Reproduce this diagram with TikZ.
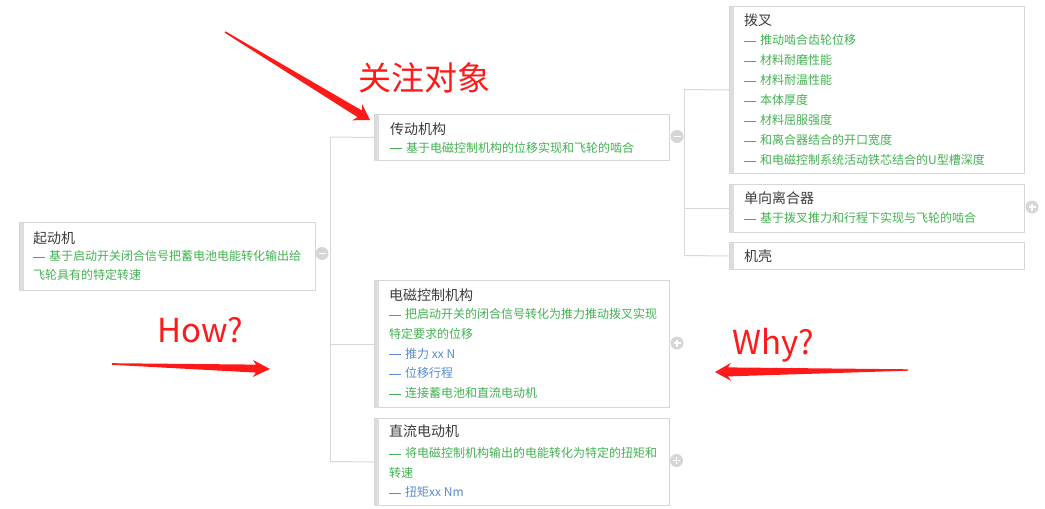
\documentclass[tikz,border=0pt]{standalone}
\usepackage{fontspec}
\setmainfont{Noto Sans CJK SC}
\definecolor{boxc}{RGB}{214,214,214}
\definecolor{barc}{RGB}{221,221,221}
\definecolor{linec}{RGB}{216,216,216}
\definecolor{titc}{RGB}{60,60,60}
\definecolor{grn}{RGB}{66,178,82}
\definecolor{blu}{RGB}{90,140,208}
\definecolor{redc}{RGB}{255,26,26}
\definecolor{togc}{RGB}{214,214,214}
\tikzset{
  box/.style={draw=boxc, line width=1pt, fill=white, inner sep=0pt, anchor=north west},
  ttl/.style={anchor=base west, inner sep=0pt, font=\fontsize{14}{16}\selectfont, text=titc},
  gtx/.style={anchor=base west, inner sep=0pt, font=\fontsize{12}{14}\selectfont, text=grn},
  btx/.style={anchor=base west, inner sep=0pt, font=\fontsize{12}{14}\selectfont, text=blu},
  conn/.style={draw=linec, line width=1pt},
  tog/.style={circle, fill=togc, minimum size=13pt, inner sep=0pt},
  togsign/.style={draw=white, line width=1.6pt},
  redtxt/.style={anchor=base west, inner sep=0pt, font=\fontsize{33}{36}\selectfont, text=redc},
  redarrow/.style={fill=redc, draw=none}
}
\newcommand{\dsh}{\rule[3.1pt]{11.5pt}{0.9pt}\hspace{4.5pt}}
\begin{document}
\begin{tikzpicture}[x=1pt,y=-1pt]
\useasboundingbox (0,0) rectangle (1045,509);
\fill[white] (0,0) rectangle (1045,509);

% boxes
\node[box, minimum width=296pt, minimum height=68pt] (qdj) at (19,222) {};
\node[box, minimum width=295pt, minimum height=46pt] (cd) at (374,114) {};
\node[box, minimum width=295pt, minimum height=127pt] (dc) at (374,280) {};
\node[box, minimum width=295pt, minimum height=87pt] (zl) at (374,418) {};
\node[box, minimum width=295pt, minimum height=167pt] (bc) at (729,6) {};
\node[box, minimum width=295pt, minimum height=48pt] (dx) at (729,184) {};
\node[box, minimum width=295pt, minimum height=27pt] (jk) at (729,242) {};

% connectors
\coordinate (jL1) at (330,137);
\coordinate (jL3) at (330,461.5);
\draw[conn] (jL1) -- (jL3);
\draw[conn] (jL1) -- (cd.west);
\draw[conn] (jL1 |- dc.west) -- (dc.west);
\draw[conn] (jL3) -- (zl.west);
\coordinate (jR1) at (684,89.5);
\coordinate (jR3) at (684,255.5);
\draw[conn] (jR1) -- (jR3);
\draw[conn] (jR1) -- (bc.west);
\draw[conn] (jR1 |- dx.west) -- (dx.west);
\draw[conn] (jR3) -- (jk.west);

% left bars
\foreach \b in {qdj,cd,dc,zl,bc,dx,jk}{
  \fill[barc] ([shift={(0.5pt,-0.5pt)}]\b.north west) rectangle ([shift={(5pt,0.5pt)}]\b.south west);
}

% texts
\node[ttl] (qdjT) at (33,243) {起动机};
\node[gtx] (qdjA) at (33,260.6) {\dsh 基于启动开关闭合信号把蓄电池电能转化输出给};
\node[gtx] (qdjB) at (33,279.6) {飞轮具有的特定转速};

\node[ttl] (cdT) at (390,134.3) {传动机构};
\node[gtx] (cdA) at (390,152.1) {\dsh 基于电磁控制机构的位移实现和飞轮的啮合};

\node[ttl] (bcT) at (744,25.3) {拨叉};
\node[gtx] (bcA) at (744,44.6) {\dsh 推动啮合齿轮位移};
\node[gtx] (bcB) at (744,64.6) {\dsh 材料耐磨性能};
\node[gtx] (bcC) at (744,84.6) {\dsh 材料耐温性能};
\node[gtx] (bcD) at (744,104.6) {\dsh 本体厚度};
\node[gtx] (bcE) at (744,124.6) {\dsh 材料屈服强度};
\node[gtx] (bcF) at (744,144.6) {\dsh 和离合器结合的开口宽度};
\node[gtx] (bcG) at (744,164.6) {\dsh 和电磁控制系统活动铁芯结合的U型槽深度};

\node[ttl] (dxT) at (744,203.8) {单向离合器};
\node[gtx] (dxA) at (744,222.6) {\dsh 基于拨叉推力和行程下实现与飞轮的啮合};

\node[ttl] (jkT) at (744,261.3) {机壳};

\node[ttl] (dcT) at (389,300.3) {电磁控制机构};
\node[gtx] (dcA) at (389,318.6) {\dsh 把启动开关的闭合信号转化为推力推动拨叉实现};
\node[gtx] (dcB) at (389,338.6) {特定要求的位移};
\node[btx] (dcC) at (389,358.1) {\dsh 推力 xx N};
\node[btx] (dcD) at (389,377.6) {\dsh 位移行程};
\node[gtx] (dcE) at (389,397.6) {\dsh 连接蓄电池和直流电动机};

\node[ttl] (zlT) at (389,436.8) {直流电动机};
\node[gtx] (zlA) at (389,457.6) {\dsh 将电磁控制机构输出的电能转化为特定的扭矩和};
\node[gtx] (zlB) at (389,477.1) {转速};
\node[btx] (zlC) at (389,496.6) {\dsh 扭矩xx Nm};

% toggles
\node[tog] (tqdj) at (322,253.5) {};
\draw[togsign] ([xshift=-3.5pt]tqdj.center) -- ([xshift=3.5pt]tqdj.center);
\node[tog] (tcd) at (677,136.5) {};
\draw[togsign] ([xshift=-3.5pt]tcd.center) -- ([xshift=3.5pt]tcd.center);
\foreach \t/\x/\y in {tdx/1032/207, tdc/677/343, tzl/676.5/460.5}{
  \node[tog] (\t) at (\x,\y) {};
  \draw[togsign] ([xshift=-3.5pt]\t.center) -- ([xshift=3.5pt]\t.center);
  \draw[togsign] ([yshift=-3.5pt]\t.center) -- ([yshift=3.5pt]\t.center);
}

% annotations
\node[redtxt] (gz) at (358,90.5) {关注对象};
\node[redtxt] (how) at (157,342) {How?};
\node[redtxt] (why) at (732,354) {Why?};

\fill[redarrow] (225.4,31.3) -- (361.8,110.4) -- (362.1,104.1) -- (370,120) -- (352.3,120.3) -- (357.6,117.2) -- (224.6,32.7) -- cycle;
\fill[redarrow] (112,363.2) -- (256,364.6) -- (253,360) -- (270,369) -- (252.7,377) -- (256,372.6) -- (112,364.8) -- cycle;
\fill[redarrow] (908,369.3) -- (728,367.4) -- (731,362.8) -- (715,372) -- (731,380.8) -- (728,376.4) -- (908,370.7) -- cycle;
\end{tikzpicture}
\end{document}
